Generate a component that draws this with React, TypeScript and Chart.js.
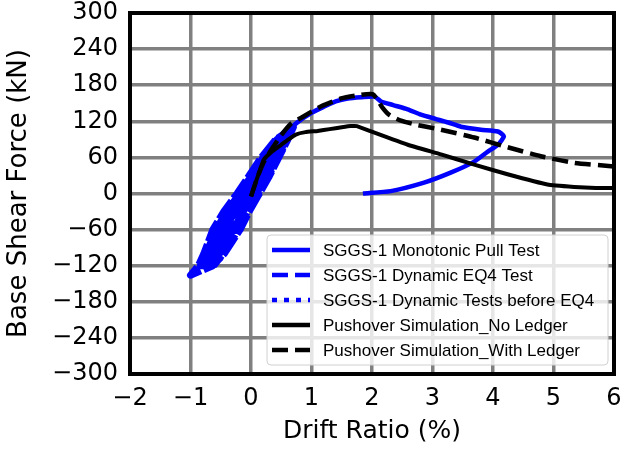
import React, { useEffect, useRef } from "react";
import { Chart, registerables } from "chart.js";
Chart.register(...registerables);

// ---- data ----
const xTickValues = [-2, -1, 0, 1, 2, 3, 4, 5, 6];
const yTickValues = [-300, -240, -180, -120, -60, 0, 60, 120, 180, 240, 300];

const seriesLabels = [
  "SGGS-1 Monotonic Pull Test",
  "SGGS-1 Dynamic EQ4 Test",
  "SGGS-1 Dynamic Tests before EQ4",
  "Pushover Simulation_No Ledger",
  "Pushover Simulation_With Ledger",
];

const monoX = [0, 0.15, 0.3, 0.45, 0.6, 0.75, 1.0, 1.2, 1.4, 1.6, 1.82, 2.04, 2.15, 2.35, 2.59, 2.81, 3.05, 3.26, 3.47, 3.8, 4.08, 4.18, 4.08, 3.92, 3.69, 3.31, 2.86, 2.31, 1.85];
const monoY = [0, 30, 58, 85, 103, 117, 134, 144, 153, 158, 160, 161, 153, 147, 140, 131, 124, 118, 111, 106, 103, 95, 81, 70, 53, 35, 18, 4, 0];

const eq4X = [0, 0.09, 0.27, 0.42, 0.59, 0.68, 0.41, 0.17, -0.03, -0.23, -0.45, -0.63, -0.78, -0.87, -1.0, -0.63, -0.44, -0.18, -0.03, 0.14, 0.31, 0.46, 0.61, 0.7, 0.46, 0.23, 0.04, -0.15, -0.36, -0.53, -0.71, -0.82, -0.71, -0.56, -0.34, -0.18, 0.01, 0.19, 0.36, 0.54, 0.5, 0.29, 0.12, -0.07, -0.27, -0.43, -0.63, -0.76, -0.67, -0.48, -0.31, -0.11, 0.08, 0.26, 0.39, 0.23, 0.05, -0.13, -0.29, -0.52, -0.58, -0.4, -0.19, 0.01, 0.2, 0.43,
  0.6, 0.6, 0.45, 0.29, 0.12, -0.06, -0.21, -0.46, -0.6, -0.74, -0.6, -0.39, -0.22, -0.03, 0.15, 0.33, 0.52, 0.57, 0.39, 0.23, 0.05, -0.13, -0.29, -0.52, -0.68, -0.84, -0.74, -0.58, -0.4, -0.19, 0.01, 0.2, 0.43];
const eq4Y = [0, 0, 30, 60, 90, 108, 90, 60, 30, 0, -30, -60, -100, -120, -136, -120, -100, -60, -30, 0, 30, 60, 90, 110, 90, 60, 30, 0, -30, -60, -100, -120, -120, -100, -60, -30, 0, 30, 60, 90, 90, 60, 30, 0, -30, -60, -100, -120, -100, -60, -30, 0, 30, 60, 60, 30, 0, -30, -60, -100, -60, -30, 0, 30, 60, 90,
  104, 90, 60, 30, 0, -30, -60, -100, -118, -120, -100, -60, -30, 0, 30, 60, 90, 90, 60, 30, 0, -30, -60, -100, -120, -120, -100, -60, -30, 0, 30, 60, 90];

const preX = [0, 0.1, 0.2, 0.1, -0.05, -0.2, -0.1, 0.05, 0.25, 0.1, -0.1, -0.3, -0.15, 0];
const preY = [0, 15, 30, 22, 0, -25, -18, 5, 38, 25, -5, -40, -28, -5];

const noLedgerX = [0.0, 0.1, 0.21, 0.35, 0.5, 0.62, 0.74, 0.9, 1.1, 1.3, 1.5, 1.65, 1.75, 2.04, 2.59, 3.14, 3.69, 4.24, 4.9, 5.34, 5.7, 6.0];
const noLedgerY = [-5, 25, 56, 70, 81, 90, 98, 102, 104, 107, 110, 112, 112, 101, 81, 65, 48, 32, 15, 11, 9, 9];

const ledgerX = [0.0, 0.1, 0.2, 0.33, 0.5, 0.66, 0.83, 1.16, 1.49, 1.82, 2.01, 2.09, 2.17, 2.28, 2.48, 2.7, 3.14, 3.69, 4.24, 4.79, 5.34, 6.0];
const ledgerY = [-5, 25, 50, 72, 97, 116, 126, 145, 158, 164, 165, 156, 143, 131, 121, 115, 106, 93, 77, 62, 51, 45];

const toPts = (xs: number[], ys: number[]) => xs.map((x, i) => ({ x, y: ys[i] }));
const fmt = (v: number) => (v < 0 ? "\u2212" + Math.abs(v) : String(v));

const legendPlugin = {
  id: "boxLegend",
  afterDraw(chart: any) {
    const ctx = chart.ctx;
    const ca = chart.chartArea;
    ctx.save();
    ctx.strokeStyle = "#000";
    ctx.lineWidth = 4;
    ctx.strokeRect(ca.left, ca.top, ca.right - ca.left, ca.bottom - ca.top);
    ctx.restore();

    const x0 = ca.right - 347;
    const y0 = ca.bottom - 139;
    const w = 341;
    const h = 130;
    ctx.save();
    ctx.beginPath();
    if (ctx.roundRect) ctx.roundRect(x0, y0, w, h, 4);
    else ctx.rect(x0, y0, w, h);
    ctx.fillStyle = "rgba(255,255,255,0.8)";
    ctx.fill();
    ctx.strokeStyle = "#d0d0d0";
    ctx.lineWidth = 1;
    ctx.stroke();
    chart.data.datasets.forEach((ds: any, i: number) => {
      const yy = y0 + 15 + 25 * i;
      ctx.beginPath();
      ctx.setLineDash(ds.legendDash || ds.borderDash || []);
      ctx.lineCap = "butt";
      ctx.strokeStyle = ds.borderColor;
      ctx.lineWidth = 4.5;
      ctx.moveTo(x0 + 5, yy);
      ctx.lineTo(x0 + 43, yy);
      ctx.stroke();
      ctx.setLineDash([]);
      ctx.fillStyle = "#000";
      ctx.font = "17px 'Liberation Sans', Arial, sans-serif";
      ctx.textBaseline = "middle";
      ctx.textAlign = "left";
      ctx.fillText(ds.label, x0 + 56, yy + 1);
    });
    ctx.restore();
  },
};

export default function App() {
  const ref = useRef<HTMLCanvasElement>(null);
  useEffect(() => {
    if (!ref.current) return;
    const blue = "#0000ff";
    const chart = new Chart(ref.current, {
      type: "scatter",
      data: {
        datasets: [
          { label: seriesLabels[0], data: toPts(monoX, monoY), borderColor: blue, borderWidth: 4.5, showLine: true, pointRadius: 0, order: 3, tension: 0.2 },
          { label: seriesLabels[1], data: toPts(eq4X, eq4Y), borderColor: blue, borderWidth: 7, borderDash: [22, 3], legendDash: [16, 7], borderJoinStyle: "round", showLine: true, pointRadius: 0, order: 4 },
          { label: seriesLabels[2], data: toPts(preX, preY), borderColor: blue, borderWidth: 4.5, borderDash: [5, 7], showLine: true, pointRadius: 0, order: 5 },
          { label: seriesLabels[3], data: toPts(noLedgerX, noLedgerY), borderColor: "#000", borderWidth: 4, showLine: true, pointRadius: 0, order: 1, tension: 0.1 },
          { label: seriesLabels[4], data: toPts(ledgerX, ledgerY), borderColor: "#000", borderWidth: 4.5, borderDash: [16, 7], showLine: true, pointRadius: 0, order: 2, tension: 0.2 },
        ] as any,
      },
      options: {
        animation: false,
        responsive: false,
        layout: { padding: { top: 13, right: 7, left: 0, bottom: 0 } },
        plugins: { legend: { display: false }, tooltip: { enabled: false } },
        scales: {
          x: {
            type: "linear",
            min: -2,
            max: 6,
            afterBuildTicks: (s: any) => { s.ticks = xTickValues.map((v) => ({ value: v })); },
            afterFit: (s: any) => { s.height = 76; s.paddingLeft = 0; s.paddingRight = 0; },
            ticks: { color: "#000", font: { family: "'DejaVu Sans'", size: 24 }, padding: 10, callback: (v: any) => fmt(Number(v)), maxRotation: 0 },
            grid: { color: "#808080", lineWidth: 3.5, drawTicks: false },
            border: { display: false },
            title: { display: true, text: "Drift Ratio (%)", color: "#000", font: { family: "'DejaVu Sans'", size: 25 }, padding: { top: 4, bottom: 4 } },
          },
          y: {
            type: "linear",
            min: -300,
            max: 300,
            afterBuildTicks: (s: any) => { s.ticks = yTickValues.map((v) => ({ value: v })); },
            afterFit: (s: any) => { s.width = 130; s.paddingTop = 0; s.paddingBottom = 0; },
            ticks: { color: "#000", font: { family: "'DejaVu Sans'", size: 24 }, padding: 12, callback: (v: any) => fmt(Number(v)) },
            grid: { color: "#808080", lineWidth: 3.5, drawTicks: false },
            border: { display: false },
            title: { display: true, text: "Base Shear Force (kN)", color: "#000", font: { family: "'DejaVu Sans'", size: 26 }, padding: { top: 4, bottom: 4 } },
          },
        },
      } as any,
      plugins: [legendPlugin],
    });
    return () => chart.destroy();
  }, []);
  return (
    <div style={{ position: "absolute", left: 0, top: 0, width: 621, height: 450 }}>
      <canvas ref={ref} width={621} height={450} />
    </div>
  );
}
